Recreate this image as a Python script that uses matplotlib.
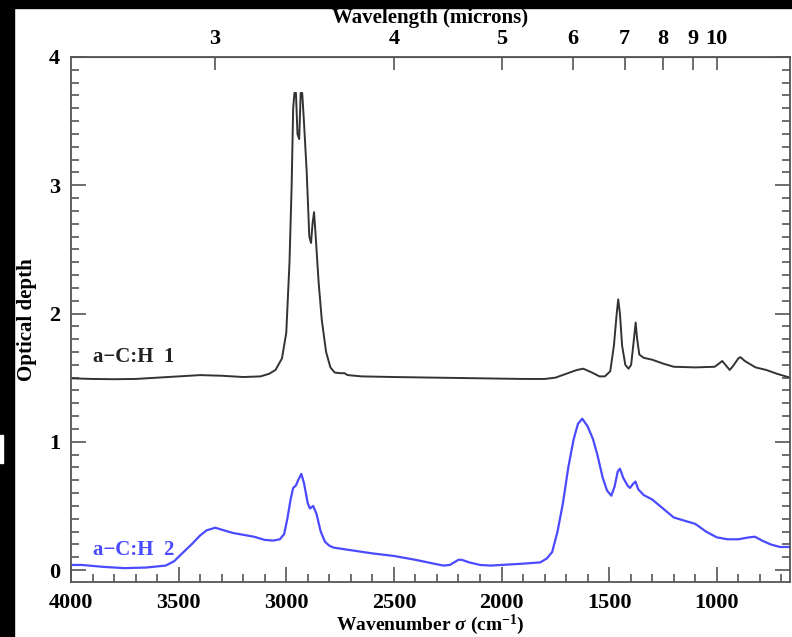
import matplotlib
matplotlib.use("Agg")
import matplotlib.pyplot as plt
from matplotlib.patches import Rectangle
from matplotlib.ticker import MultipleLocator, FixedLocator, NullLocator

# a-C:H 1 spectrum (offset by +1.5), wavenumber in cm^-1
wn1 = [4000, 3900, 3800, 3700, 3600, 3500, 3400, 3300, 3200, 3120, 3080, 3050,
       3020, 3000, 2985, 2975, 2968, 2962, 2955, 2948, 2940, 2933, 2926, 2918,
       2905, 2893, 2885, 2878, 2871, 2864, 2850, 2835, 2815, 2795, 2775, 2750,
       2730, 2715, 2650, 2500, 2300, 2100, 1900, 1800, 1750, 1700, 1650, 1620,
       1580, 1545, 1520, 1495, 1478, 1465, 1458, 1450, 1440, 1425, 1410, 1398,
       1385, 1377, 1370, 1360, 1340, 1300, 1250, 1200, 1100, 1010, 990, 975,
       960, 940, 925, 900, 890, 870, 820, 770, 720, 680, 660]
od1 = [1.495, 1.49, 1.488, 1.49, 1.50, 1.51, 1.52, 1.515, 1.505, 1.51, 1.53, 1.56,
       1.65, 1.85, 2.4, 3.0, 3.6, 3.72, 3.72, 3.40, 3.36, 3.72, 3.72, 3.50,
       3.10, 2.60, 2.55, 2.70, 2.79, 2.62, 2.25, 1.95, 1.70, 1.58, 1.54, 1.535,
       1.535, 1.52, 1.51, 1.505, 1.50, 1.495, 1.49, 1.49, 1.50, 1.53, 1.56, 1.57,
       1.54, 1.51, 1.51, 1.55, 1.75, 2.0, 2.11, 2.0, 1.75, 1.60, 1.57, 1.60,
       1.80, 1.93, 1.80, 1.68, 1.655, 1.64, 1.61, 1.585, 1.58, 1.585, 1.61, 1.63,
       1.60, 1.56, 1.59, 1.65, 1.66, 1.63, 1.58, 1.56, 1.53, 1.51, 1.50]

# a-C:H 2 spectrum
wn2 = [4000, 3950, 3850, 3750, 3650, 3560, 3520, 3490, 3440, 3400, 3370, 3330,
       3290, 3250, 3200, 3150, 3100, 3060, 3030, 3010, 2995, 2980, 2968, 2955,
       2945, 2930, 2918, 2900, 2890, 2875, 2860, 2840, 2820, 2800, 2780, 2700,
       2600, 2500, 2400, 2300, 2270, 2240, 2200, 2185, 2150, 2100, 2050, 2000,
       1900, 1820, 1790, 1765, 1740, 1715, 1690, 1665, 1645, 1625, 1600, 1575,
       1555, 1530, 1510, 1490, 1475, 1460, 1450, 1435, 1415, 1403, 1390, 1378,
       1365, 1340, 1300, 1250, 1200, 1150, 1100, 1050, 1000, 950, 900, 850,
       823, 790, 750, 707, 660]
od2 = [0.04, 0.04, 0.025, 0.015, 0.02, 0.035, 0.07, 0.12, 0.20, 0.27, 0.31, 0.33,
       0.31, 0.29, 0.275, 0.26, 0.235, 0.23, 0.24, 0.28, 0.40, 0.55, 0.64, 0.66,
       0.70, 0.75, 0.68, 0.52, 0.48, 0.50, 0.44, 0.30, 0.22, 0.19, 0.175, 0.155,
       0.13, 0.11, 0.08, 0.045, 0.035, 0.04, 0.08, 0.08, 0.06, 0.04, 0.035, 0.04,
       0.05, 0.06, 0.09, 0.14, 0.30, 0.52, 0.80, 1.02, 1.14, 1.18, 1.12, 1.02,
       0.90, 0.72, 0.62, 0.58, 0.65, 0.77, 0.79, 0.72, 0.66, 0.64, 0.67, 0.69,
       0.63, 0.585, 0.55, 0.48, 0.41, 0.385, 0.36, 0.30, 0.255, 0.24, 0.24, 0.255,
       0.26, 0.23, 0.20, 0.18, 0.18]

wl_ticks = [3, 4, 5, 6, 7, 8, 9, 10]

plt.rcParams['font.family'] = 'Liberation Serif'
plt.rcParams['font.weight'] = 'bold'
plt.rcParams['axes.labelweight'] = 'bold'
plt.rcParams['font.size'] = 16
plt.rcParams['mathtext.fontset'] = 'custom'
plt.rcParams['mathtext.rm'] = 'Liberation Serif:bold'
plt.rcParams['mathtext.it'] = 'Liberation Serif:italic'

axcol = '#555555'
fig = plt.figure(figsize=(7.92, 6.37), dpi=100)
ax = fig.add_axes([71 / 792, 1 - 582 / 637, 719 / 792, 525 / 637])

ax.plot(wn1, od1, color='#333333', lw=1.4)
ax.plot(wn2, od2, color='#4a4aff', lw=1.6)

ax.set_xlim(4000, 660)
ax.set_ylim(-0.093, 4.0)

ax.xaxis.set_major_locator(MultipleLocator(500))
ax.xaxis.set_minor_locator(MultipleLocator(100))
ax.yaxis.set_major_locator(MultipleLocator(1))
ax.yaxis.set_minor_locator(MultipleLocator(0.1))
ax.tick_params(which='both', direction='in', color=axcol, width=1.2, right=True)
ax.tick_params(which='major', length=11, pad=8)
ax.tick_params(which='minor', length=6)
ax.tick_params(axis='x', which='both', top=False)
for s in ax.spines.values():
    s.set_color(axcol)
    s.set_linewidth(1.3)

ax.set_xlabel('Wavenumber $\\sigma$ (cm$^{-1}$)', fontsize=14, labelpad=0)
ax.set_ylabel('Optical depth', fontsize=15)
ax.yaxis.set_label_coords(-0.047, 0.5)

ax.text(3900, 1.62, 'a\u2212C:H  1', color='#222222', fontsize=15)
ax.text(3900, 0.12, 'a\u2212C:H  2', color='#4a4aff', fontsize=15)

# wavelength axis on top
sec = ax.secondary_xaxis('top', functions=(lambda s: 1e4 / s, lambda w: 1e4 / w))
sec.xaxis.set_major_locator(FixedLocator(wl_ticks))
sec.xaxis.set_minor_locator(NullLocator())
sec.set_xticklabels([str(t) for t in wl_ticks])
sec.tick_params(direction='in', length=9, width=1.2, color=axcol, pad=6)
sec.spines['top'].set_color(axcol)
sec.set_xlabel('Wavelength (microns)', fontsize=15, labelpad=4)

# dark frame around the figure
fig.patches.append(Rectangle((0, 1 - 8 / 637), 1, 8 / 637, transform=fig.transFigure,
                             color='black', zorder=10))
fig.patches.append(Rectangle((0, 0), 14 / 792, 1, transform=fig.transFigure,
                             color='black', zorder=10))
fig.patches.append(Rectangle((0, 1 - 463 / 637), 3 / 792, 28 / 637, transform=fig.transFigure,
                             color='white', zorder=11))

fig.savefig('out.png', dpi=100)
